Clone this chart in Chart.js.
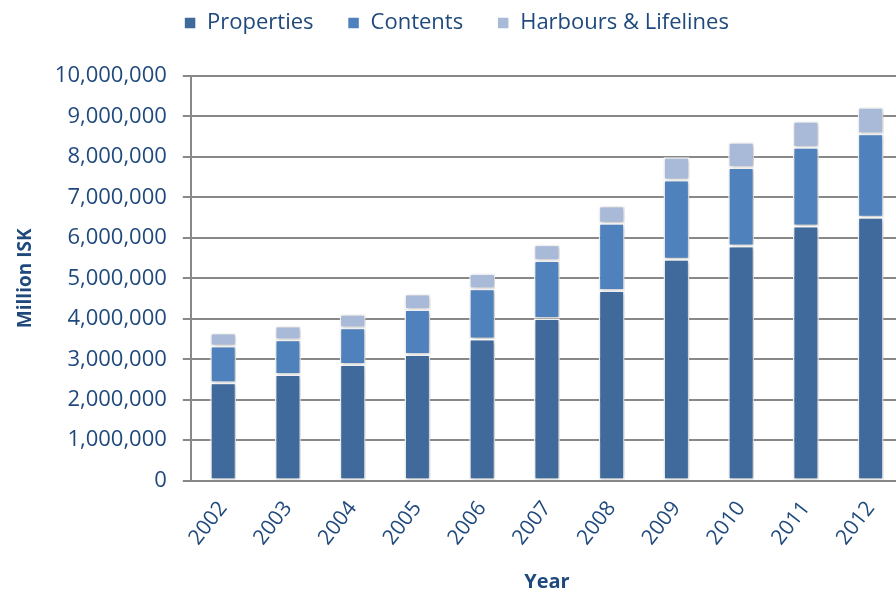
<!DOCTYPE html>
<html>
<head>
<meta charset="utf-8">
<script src="https://cdn.jsdelivr.net/npm/chart.js@4/dist/chart.umd.min.js"></script>
<style>
  html, body { margin: 0; padding: 0; background: #fff; overflow: hidden; }
  #wrap { width: 904px; height: 594px; }
</style>
</head>
<body>
<div id="wrap"><canvas id="chart"></canvas></div>
<script>
const years = ['2002','2003','2004','2005','2006','2007','2008','2009','2010','2011','2012'];
const properties = [2420000, 2620000, 2870000, 3120000, 3500000, 4010000, 4700000, 5470000, 5800000, 6290000, 6510000];
const contents   = [910000, 860000, 910000, 1110000, 1240000, 1430000, 1660000, 1960000, 1940000, 1950000, 2060000];
const harbours   = [320000, 340000, 330000, 380000, 380000, 390000, 430000, 560000, 620000, 640000, 660000];

const textColor = '#1F497D';
const fontFam = '"Open Sans", sans-serif';

const shadowPlugin = {
  id: 'barShadow',
  beforeDatasetsDraw(chart) {
    const ctx = chart.ctx;
    ctx.save();
    ctx.shadowColor = 'rgba(0,0,0,0.28)';
    ctx.shadowBlur = 4;
    ctx.shadowOffsetX = 1;
    ctx.shadowOffsetY = 1;
  },
  afterDatasetsDraw(chart) {
    chart.ctx.restore();
  }
};

// extra room under the legend
const legendGap = {
  id: 'legendGap',
  beforeInit(chart) {
    const origFit = chart.legend.fit;
    chart.legend.fit = function () {
      origFit.bind(chart.legend)();
      this.height += 32;
    };
  }
};

function ds(label, data, color) {
  return {
    label: label,
    data: data,
    backgroundColor: color,
    borderColor: '#ffffff',
    borderWidth: 1.5,
    borderSkipped: false,
    barPercentage: 0.4,
    categoryPercentage: 1.0
  };
}

new Chart(document.getElementById('chart').getContext('2d'), {
  type: 'bar',
  data: {
    labels: years,
    datasets: [
      ds('Properties', properties, '#3F6A9B'),
      ds('Contents', contents, '#4F81BD'),
      ds('Harbours & Lifelines', harbours, '#A9B9D8')
    ]
  },
  options: {
    responsive: true,
    maintainAspectRatio: false,
    animation: false,
    layout: { padding: { left: 10, right: 1, top: -22, bottom: -4 } },
    plugins: {
      legend: {
        position: 'top',
        labels: {
          color: textColor,
          font: { family: fontFam, size: 22 },
          boxWidth: 12,
          boxHeight: 12,
          padding: 34
        }
      },
      tooltip: { enabled: false }
    },
    scales: {
      x: {
        stacked: true,
        grid: { display: false, drawOnChartArea: false, tickLength: 8, color: '#888' },
        border: { color: '#888', width: 2 },
        ticks: {
          color: textColor,
          font: { family: fontFam, size: 21 },
          maxRotation: 52,
          minRotation: 52,
          padding: 8
        },
        title: {
          display: true,
          text: 'Year',
          color: textColor,
          font: { family: fontFam, size: 20, weight: 'bold' },
          padding: { top: 12 }
        }
      },
      y: {
        stacked: true,
        min: 0,
        max: 10000000,
        grid: { color: '#888', lineWidth: 2, tickLength: 8 },
        border: { color: '#888', width: 2 },
        ticks: {
          stepSize: 1000000,
          color: textColor,
          font: { family: fontFam, size: 22 },
          padding: 16,
          callback: v => v.toLocaleString('en-US')
        },
        title: {
          display: true,
          text: 'Million ISK',
          color: textColor,
          font: { family: fontFam, size: 19, weight: 'bold' },
          padding: { bottom: 2 }
        }
      }
    }
  },
  plugins: [shadowPlugin, legendGap]
});
</script>
</body>
</html>
